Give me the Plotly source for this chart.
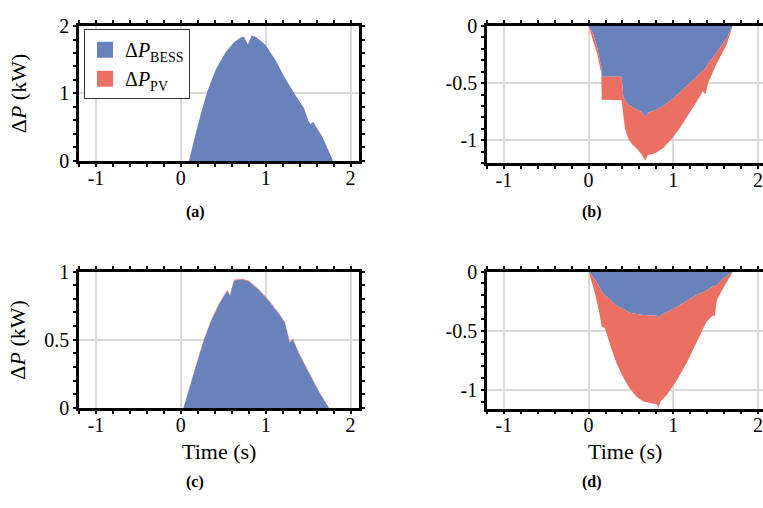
import plotly.graph_objects as go

# ---- data: power deviation (kW) vs time (s) for four cases ----
t_a = [-1.2, 0.0, 0.095, 0.174, 0.233, 0.31, 0.41, 0.528, 0.626, 0.705, 0.744, 0.79,
       0.835, 0.882, 1.0, 1.118, 1.236, 1.354, 1.452, 1.504, 1.53, 1.559, 1.669, 1.795, 2.1]
bess_a = [0, 0, 0, 0.40, 0.686, 1.02, 1.35, 1.61, 1.76, 1.83, 1.84, 1.73,
          1.854, 1.84, 1.72, 1.49, 1.21, 0.97, 0.78, 0.59, 0.545, 0.58, 0.355, 0, 0]
pv_a = [0] * len(t_a)

t_b = [-1.2, 0.0, 0.05, 0.10, 0.14, 0.15, 0.155, 0.39, 0.41, 0.43, 0.47, 0.52, 0.57,
       0.63, 0.67, 0.70, 0.78, 0.88, 0.98, 1.08, 1.20, 1.29, 1.35, 1.38, 1.41, 1.47,
       1.51, 1.59, 1.63, 1.70, 2.1]
bess_b = [0, 0, -0.06, -0.18, -0.325, -0.35, -0.444, -0.444, -0.62, -0.65, -0.69, -0.71,
          -0.73, -0.755, -0.80, -0.76, -0.74, -0.70, -0.645, -0.582, -0.497, -0.435,
          -0.39, -0.375, -0.33, -0.276, -0.234, -0.15, -0.11, 0, 0]
pv_b = [0, 0, -0.065, -0.06, -0.055, -0.05, -0.201, -0.206, -0.16, -0.25, -0.30, -0.33,
        -0.345, -0.375, -0.38, -0.37, -0.375, -0.37, -0.345, -0.308, -0.253, -0.21,
        -0.18, -0.225, -0.17, -0.124, -0.098, -0.07, -0.055, 0, 0]

t_c = [-1.2, 0.0, 0.03, 0.115, 0.193, 0.272, 0.35, 0.449, 0.548, 0.579, 0.626, 0.725,
       0.803, 0.921, 1.039, 1.157, 1.228, 1.283, 1.322, 1.393, 1.511, 1.629, 1.748, 2.1]
bess_c = [0, 0, 0, 0.175, 0.339, 0.50, 0.63, 0.759, 0.86, 0.822, 0.934, 0.941,
          0.927, 0.864, 0.783, 0.689, 0.624, 0.479, 0.502, 0.397, 0.257, 0.117, 0, 0]
pv_c = [0, 0, 0, 0.004, 0.005, 0.005, 0.006, 0.006, 0.006, 0.006, 0.006, 0.006,
        0.006, 0.006, 0.006, 0.006, 0.006, 0.006, 0.006, 0.006, 0.005, 0.005, 0, 0]

t_d = [-1.2, 0.0, 0.074, 0.133, 0.153, 0.192, 0.251, 0.33, 0.409, 0.488, 0.567, 0.645,
       0.744, 0.80, 0.826, 0.85, 0.921, 1.039, 1.157, 1.275, 1.393, 1.47, 1.49, 1.515,
       1.589, 1.707, 2.1]
bess_d = [0, 0, -0.068, -0.14, -0.168, -0.20, -0.235, -0.29, -0.318, -0.349, -0.36, -0.367,
          -0.37, -0.375, -0.392, -0.37, -0.345, -0.30, -0.249, -0.198, -0.16, -0.127,
          -0.124, -0.115, -0.06, 0, 0]
pv_d = [0, 0, -0.113, -0.23, -0.297, -0.278, -0.378, -0.486, -0.579, -0.643, -0.699,
        -0.733, -0.743, -0.745, -0.762, -0.73, -0.701, -0.624, -0.527, -0.402, -0.264,
        -0.243, -0.256, -0.125, -0.081, 0, 0]

x_ticks = [-1, 0, 1, 2]
x_tick_text = ["-1", "0", "1", "2"]
y_ticks_a = [0, 1, 2]
y_ticks_c = [0, 0.5, 1]
y_ticks_neg = [-1, -0.5, 0]
y_tick_text_a = ["0", "1", "2"]
y_tick_text_c = ["0", "0.5", "1"]
y_tick_text_neg = ["-1", "-0.5", "0"]

panel_labels = ["(a)", "(b)", "(c)", "(d)"]
series_names = ["Δ<i>P</i><sub>BESS</sub>", "Δ<i>P</i><sub>PV</sub>"]

BLUE = "#6a82bb"
RED = "#ec6f63"
FONT = "Liberation Serif, serif"
W, H = 763, 508


def px_x(p):
    return p / W


def px_y(p):
    return 1 - p / H


fig = go.Figure()

panels = [
    (t_a, bess_a, pv_a, "x", "y"),
    (t_b, bess_b, pv_b, "x2", "y2"),
    (t_c, bess_c, pv_c, "x3", "y3"),
    (t_d, bess_d, pv_d, "x4", "y4"),
]
for i, (t, bess, pv, xa, ya) in enumerate(panels):
    grp = f"s{i}"
    fig.add_trace(go.Scatter(x=t, y=bess, stackgroup=grp, mode="none",
                             fillcolor=BLUE, xaxis=xa, yaxis=ya,
                             showlegend=False, hoverinfo="skip"))
    fig.add_trace(go.Scatter(x=t, y=pv, stackgroup=grp, mode="none",
                             fillcolor=RED, xaxis=xa, yaxis=ya,
                             showlegend=False, hoverinfo="skip"))

# legend entries as filled squares
for name, col in zip(series_names, [BLUE, RED]):
    fig.add_trace(go.Scatter(x=[None], y=[None], mode="markers", name=name,
                             marker=dict(symbol="square", size=18, color=col),
                             xaxis="x", yaxis="y"))

tick_font = dict(family=FONT, size=20, color="black")


def x_axis(domain, xrange, anchor):
    return dict(domain=domain, range=xrange, anchor=anchor,
                tickmode="array", tickvals=x_ticks, ticktext=x_tick_text,
                showgrid=True, gridcolor="#dadada", gridwidth=2,
                showline=True, linecolor="black", linewidth=2.5, mirror="allticks",
                ticks="outside", ticklen=3, tickwidth=2, tickcolor="black",
                minor=dict(tickmode="linear", tick0=0, dtick=0.2, ticks="outside",
                           ticklen=3, tickwidth=2, tickcolor="black", showgrid=False),
                zeroline=False, tickfont=tick_font, ticklabelstandoff=-6)


def y_axis(domain, yrange, anchor, vals, text, dminor, mirror):
    return dict(domain=domain, range=yrange, anchor=anchor,
                tickmode="array", tickvals=vals, ticktext=text,
                showgrid=True, gridcolor="#dadada", gridwidth=2,
                showline=True, linecolor="black", linewidth=2.5, mirror=mirror,
                ticks="outside", ticklen=3, tickwidth=2, tickcolor="black",
                minor=dict(tickmode="linear", tick0=0, dtick=dminor, ticks="outside",
                           ticklen=3, tickwidth=2, tickcolor="black", showgrid=False),
                zeroline=False, tickfont=tick_font, ticklabelstandoff=0)


left_x = [px_x(79), px_x(359)]
right_x = [px_x(487), 1.0]
top_a = [px_y(156.7), px_y(15.7)]
top_b = [px_y(159), px_y(15.7)]
bot_c = [px_y(415), px_y(272.3)]
bot_d = [px_y(415.7), px_y(272.3)]

fig.update_layout(
    width=W, height=H, autosize=False,
    margin=dict(l=0, r=0, t=0, b=0),
    paper_bgcolor="white", plot_bgcolor="white",
    font=dict(family=FONT, size=20, color="black"),
    xaxis=x_axis(left_x, [-1.2, 2.1], "y"),
    yaxis=y_axis(top_a, [0, 2], "x", y_ticks_a, y_tick_text_a, 0.2, "allticks"),
    xaxis2=x_axis(right_x, [-1.2, 2.06], "y2"),
    yaxis2=y_axis(top_b, [-1.2, 0], "x2", y_ticks_neg, y_tick_text_neg, 0.1, False),
    xaxis3=x_axis(left_x, [-1.2, 2.1], "y3"),
    yaxis3=y_axis(bot_c, [0, 1], "x3", y_ticks_c, y_tick_text_c, 0.1, "allticks"),
    xaxis4=x_axis(right_x, [-1.2, 2.06], "y4"),
    yaxis4=y_axis(bot_d, [-1.16, 0], "x4", y_ticks_neg, y_tick_text_neg, 0.1, False),
    legend=dict(x=px_x(84), y=px_y(19), xanchor="left", yanchor="top",
                bgcolor="white", bordercolor="#333333", borderwidth=1,
                font=dict(family=FONT, size=20, color="black"),
                traceorder="normal", tracegroupgap=0),
    showlegend=True,
)

annotations = []
# y-axis titles
for yc in [86, 343.6]:
    annotations.append(dict(text="Δ<i>P</i> (kW)", x=px_x(18), y=px_y(yc),
                            xref="paper", yref="paper", showarrow=False,
                            textangle=-90, xanchor="center", yanchor="middle",
                            font=dict(family=FONT, size=22)))
# x-axis titles
for xc in [219, 625]:
    annotations.append(dict(text="Time (s)", x=px_x(xc), y=px_y(460),
                            xref="paper", yref="paper", showarrow=False,
                            xanchor="center", yanchor="middle",
                            font=dict(family=FONT, size=22)))
# panel labels
for lab, (xc, yc) in zip(panel_labels, [(195, 210), (592, 210), (195, 492), (592, 492)]):
    annotations.append(dict(text=f"<b>{lab}</b>", x=px_x(xc), y=px_y(yc),
                            xref="paper", yref="paper", showarrow=False,
                            xanchor="center", yanchor="middle",
                            font=dict(family=FONT, size=16)))
fig.update_layout(annotations=annotations)

fig.write_html("out.html")
